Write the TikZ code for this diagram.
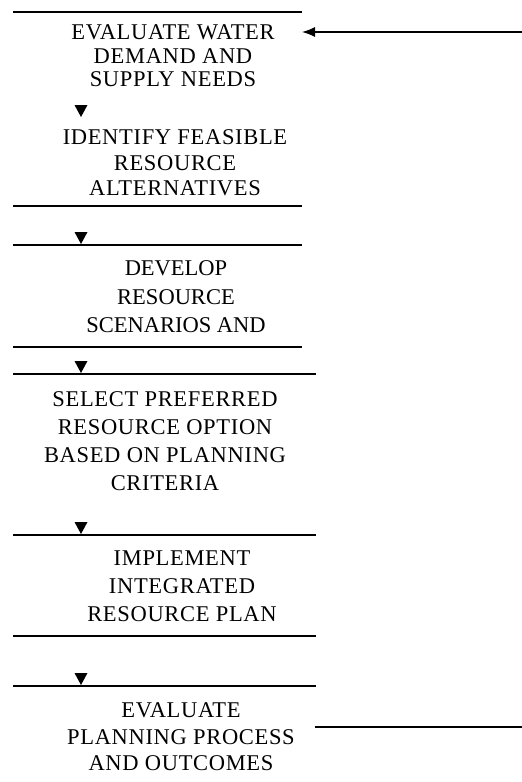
\documentclass[tikz,border=0pt]{standalone}
\usepackage{fontspec}
\setmainfont{Liberation Serif}
\newfontfamily\spaced[LetterSpace=3]{Liberation Serif}
\usetikzlibrary{arrows.meta,calc}
\tikzset{
  rule/.style={line width=1.4pt},
  block/.style={align=center, inner sep=0pt},
  tipfill/.style={fill=black},
  link/.style={line width=1.4pt},
}
\newcommand{\downtip}[1]{\fill[tipfill] ($(#1)+(-6.5,-12)$) -- ($(#1)+(6.5,-12)$) -- (#1) -- cycle;}
\begin{document}
\begin{tikzpicture}[x=1pt,y=-1pt]
\useasboundingbox (0,0) rectangle (522,782);
% horizontal rules
\draw[rule] (13,12) -- (302,12);
\draw[rule] (13,206) -- (302,206);
\draw[rule] (13,245) -- (302,245);
\draw[rule] (13,347) -- (302,347);
\draw[rule] (13,374) -- (316,374);
\draw[rule] (13,535) -- (316,535);
\draw[rule] (13,636) -- (316,636);
\draw[rule] (13,686) -- (316,686);
% text blocks
\node[block, font=\spaced\fontsize{22.5}{23.5}\selectfont] (b1) at (173,56) {EVALUATE WATER\\DEMAND AND\\SUPPLY NEEDS};
\node[block, font=\spaced\fontsize{22.5}{25.5}\selectfont] (b2) at (175,163) {IDENTIFY FEASIBLE\\RESOURCE\\ALTERNATIVES};
\node[block, font=\fontsize{22.5}{28.5}\selectfont] (b3) at (176,297) {DEVELOP\\RESOURCE\\SCENARIOS AND};
\node[block, font=\spaced\fontsize{22.5}{28}\selectfont] (b4) at (165,441) {SELECT PREFERRED\\RESOURCE OPTION\\BASED ON PLANNING\\CRITERIA};
\node[block, font=\spaced\fontsize{22.5}{28}\selectfont] (b5) at (182,586) {IMPLEMENT\\INTEGRATED\\RESOURCE PLAN};
\node[block, font=\spaced\fontsize{22.5}{26.5}\selectfont] (b6) at (181,737) {EVALUATE\\PLANNING PROCESS\\AND OUTCOMES};
% arrow tips between steps
\coordinate (t1) at (81,117);
\coordinate (t2) at (81,244);
\coordinate (t3) at (81,373);
\coordinate (t4) at (81,534);
\coordinate (t5) at (81,685);
\downtip{t1}
\downtip{t2}
\downtip{t3}
\downtip{t4}
\downtip{t5}
% feedback loop
\coordinate (in1) at (302,32);
\coordinate (r1) at (522,32);
\coordinate (out6) at (315,727);
\coordinate (r6) at (522,727);
\draw[link, -{Latex[length=13pt,width=10pt]}] (r1) -- (in1);
\draw[link] (out6) -- (r6);
\end{tikzpicture}
\end{document}
